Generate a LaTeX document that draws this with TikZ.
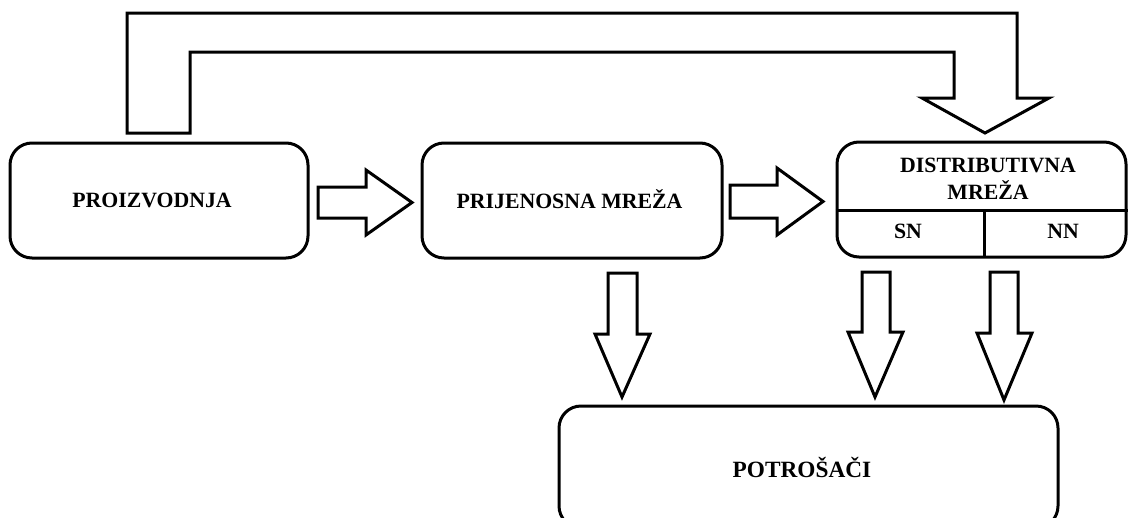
\documentclass[tikz,border=0pt]{standalone}
\usepackage{fontspec}
\setmainfont{Liberation Serif}
\begin{document}
\begin{tikzpicture}[x=1pt,y=-1pt,
  box/.style={draw,line width=3pt,rounded corners=22pt,inner sep=0pt},
  lbl/.style={font=\bfseries\fontsize{21.8}{27}\selectfont,align=center,inner sep=0pt},
  blockarrow/.style={draw,line width=3pt,fill=white,line join=miter}]
\useasboundingbox (0,0) rectangle (1129,517);
% boxes
\node[box,minimum width=298pt,minimum height=115pt] (p) at (159,200.5) {};
\node[box,minimum width=300pt,minimum height=115pt] (t) at (572,200.5) {};
\node[box,minimum width=289pt,minimum height=115pt] (d) at (981.5,199.5) {};
\node[box,minimum width=499pt,minimum height=122pt] (c) at (808.5,467) {};
% labels
\node[lbl] (pl) at (152,200) {PROIZVODNJA};
\node[lbl] (tl) at (569.5,199) {PRIJENOSNA MREŽA};
\node[lbl] (dl) at (988,178.5) {DISTRIBUTIVNA\\MREŽA};
\node[lbl] (sn) at (908,231) {SN};
\node[lbl] (nn) at (1063,231) {NN};
\node[lbl,font=\bfseries\fontsize{23.3}{27}\selectfont] (cl) at (802,467) {POTROŠAČI};
% dividers
\draw[line width=3pt] ([yshift=-10.5pt]d.west) coordinate (dw) -- ([yshift=-10.5pt]d.east);
\draw[line width=3pt] (984,210) -- (984,257);
% big bent arrow
\draw[blockarrow] (127,133) -- (127,13) -- (1017,13) -- (1017,98) -- (1049,98) -- (985,133)
  -- (922,98) -- (954,98) -- (954,52) -- (190,52) -- (190,133) -- cycle;
% right arrows
\draw[blockarrow] (318,187) -- (366,187) -- (366,170) -- (412,202.5) -- (366,235) -- (366,218) -- (318,218) -- cycle;
\draw[blockarrow] (730,185) -- (777,185) -- (777,168) -- (823,201.5) -- (777,235) -- (777,218) -- (730,218) -- cycle;
% down arrows
\draw[blockarrow] (608,273) -- (637,273) -- (637,334) -- (650,334) -- (622,397) -- (595,334) -- (608,334) -- cycle;
\draw[blockarrow] (862,272) -- (890,272) -- (890,332) -- (903,332) -- (875,397) -- (848,332) -- (862,332) -- cycle;
\draw[blockarrow] (990,272) -- (1018,272) -- (1018,333) -- (1032,333) -- (1004,400) -- (977,333) -- (990,333) -- cycle;
\end{tikzpicture}
\end{document}
